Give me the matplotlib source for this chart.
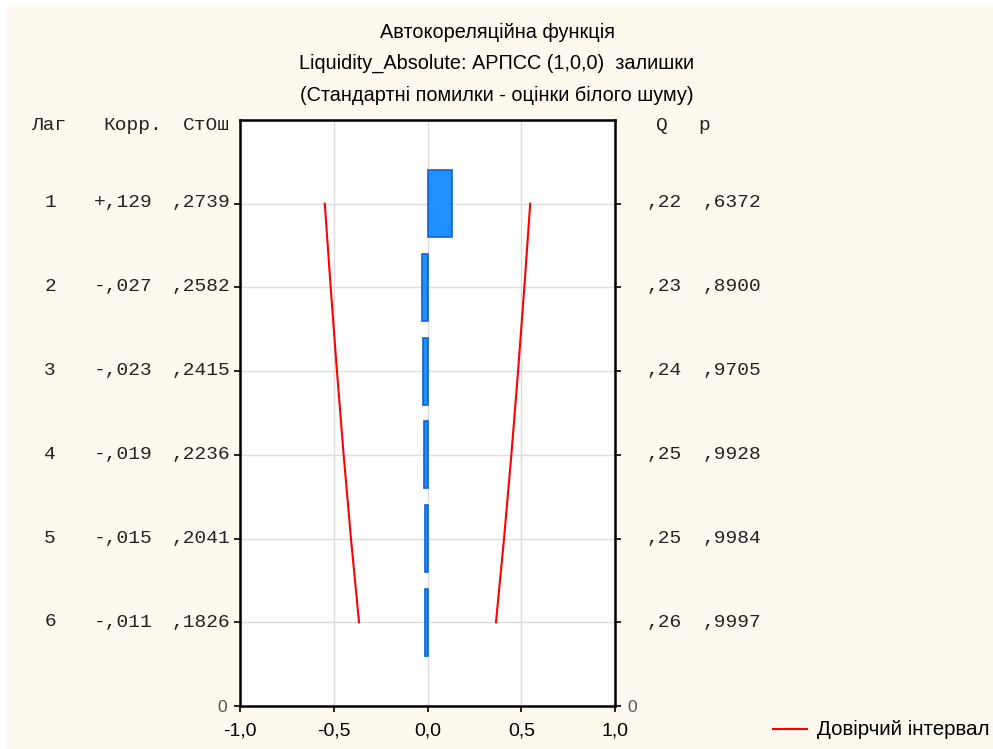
import numpy as np
import matplotlib.pyplot as plt
from matplotlib.patches import Rectangle

# Дані автокореляційної функції
lags = [1, 2, 3, 4, 5, 6]
corr = [0.129, -0.027, -0.023, -0.019, -0.015, -0.011]
std_err = [0.2739, 0.2582, 0.2415, 0.2236, 0.2041, 0.1826]
corr_txt = ["+,129", "-,027", "-,023", "-,019", "-,015", "-,011"]
se_txt = [",2739", ",2582", ",2415", ",2236", ",2041", ",1826"]
q_txt = [",22", ",23", ",24", ",25", ",25", ",26"]
p_txt = [",6372", ",8900", ",9705", ",9928", ",9984", ",9997"]
x_ticks = [-1.0, -0.5, 0.0, 0.5, 1.0]
x_labels = ["-1,0", "-0,5", "0,0", "0,5", "1,0"]

W, H = 993, 749
bg = "#fef9ef"
mono = "Liberation Mono"
sans = "Liberation Sans"

fig = plt.figure(figsize=(W / 100, H / 100), dpi=100, facecolor="white")
fig.patches.append(Rectangle((7 / W, 0), 1 - 7 / W, 1 - 5 / H,
                             transform=fig.transFigure, facecolor=bg,
                             edgecolor="none", zorder=-10))

ax = fig.add_axes([240 / W, 1 - 706 / H, 375 / W, 586 / H])
ax.set_facecolor("white")

ax.barh(lags, corr, height=0.8, left=0, color="#1e90ff",
        edgecolor="#1560d0", linewidth=1.2, zorder=3)

conf = 2 * np.array(std_err)
ax.plot(conf, lags, color="red", lw=1.5, zorder=4)
ax.plot(-conf, lags, color="red", lw=1.5, zorder=4)

ax.set_xlim(-1, 1)
ax.set_ylim(7, 0)
ax.set_xticks(x_ticks)
ax.set_xticklabels(x_labels, fontsize=14, family=sans)
ax.set_yticks(lags + [7])
ax.set_yticklabels([""] * 6 + ["0"], fontsize=12.5, family=sans, color="#555555")
ax.tick_params(axis="y", right=True, labelright=True, direction="out",
               length=4, width=1.2, pad=5)
ax.tick_params(axis="x", direction="out", length=4, width=1.2, pad=8)
ax.grid(True, color="#dddddd", lw=1, zorder=0)
for s in ax.spines.values():
    s.set_linewidth(1.8)
    s.set_color("black")

# Заголовок
title_lines = ["Автокореляційна функція",
               "Liquidity_Absolute: АРПСС (1,0,0)  залишки",
               "(Стандартні помилки - оцінки білого шуму)"]
for i, line in enumerate(title_lines):
    fig.text(497 / W, 1 - (32 + i * 31.5) / H, line, ha="center", va="center",
             fontsize=14.3, family=sans)

# Колонки з таблицею
def yfig(py):
    return 1 - py / H

fs = 14
tc = "#222222"
fig.text(49 / W, yfig(125), "Лаг", ha="center", va="center", fontsize=fs, family=mono, color=tc)
fig.text(162 / W, yfig(125), "Корр.", ha="right", va="center", fontsize=fs, family=mono, color=tc)
fig.text(230 / W, yfig(125), "СтОш", ha="right", va="center", fontsize=fs, family=mono, color=tc)
fig.text(662 / W, yfig(125), "Q", ha="center", va="center", fontsize=fs, family=mono, color=tc)
fig.text(704 / W, yfig(125), "p", ha="center", va="center", fontsize=fs, family=mono, color=tc)

for i, lag in enumerate(lags):
    py = 203 + (lag - 1) * 83.8
    fig.text(50 / W, yfig(py), str(lag), ha="center", va="center", fontsize=fs, family=mono, color=tc)
    fig.text(153 / W, yfig(py), corr_txt[i], ha="right", va="center", fontsize=fs, family=mono, color=tc)
    fig.text(230 / W, yfig(py), se_txt[i], ha="right", va="center", fontsize=fs, family=mono, color=tc)
    fig.text(682 / W, yfig(py), q_txt[i], ha="right", va="center", fontsize=fs, family=mono, color=tc)
    fig.text(761 / W, yfig(py), p_txt[i], ha="right", va="center", fontsize=fs, family=mono, color=tc)

# Легенда
fig.lines.append(plt.Line2D([773 / W, 807 / W], [yfig(729), yfig(729)],
                            transform=fig.transFigure, color="red", lw=1.5))
fig.text(817 / W, yfig(729), "Довірчий інтервал", ha="left", va="center",
         fontsize=14.8, family=sans)

fig.savefig("out.png", dpi=100, facecolor=fig.get_facecolor())
